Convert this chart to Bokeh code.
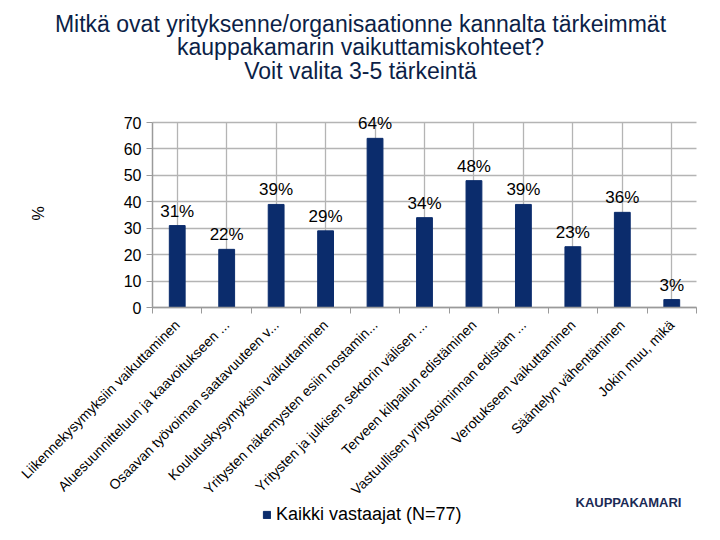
import math
from bokeh.plotting import figure
from bokeh.models import (FixedTicker, Legend, LegendItem, Range1d, Label,
                          LinearAxis, Grid, ColumnDataSource)
from bokeh.embed import file_html
from bokeh.resources import INLINE
from bokeh.core.properties import value

categories = [
    "Liikennekysymyksiin vaikuttaminen",
    "Aluesuunnitteluun ja kaavoitukseen ...",
    "Osaavan työvoiman saatavuuteen v...",
    "Koulutuskysymyksiin vaikuttaminen",
    "Yritysten näkemysten esiin nostamin...",
    "Yritysten ja julkisen sektorin välisen ...",
    "Terveen kilpailun edistäminen",
    "Vastuullisen yritystoiminnan edistäm ...",
    "Verotukseen vaikuttaminen",
    "Sääntelyn vähentäminen",
    "Jokin muu, mikä",
]
values = [31, 22, 39, 29, 64, 34, 48, 39, 23, 36, 3]
series_name = "Kaikki vastaajat (N=77)"
title_lines = [
    "Mitkä ovat yrityksenne/organisaationne kannalta tärkeimmät",
    "kauppakamarin vaikuttamiskohteet?",
    "Voit valita 3-5 tärkeintä",
]
y_ticks = [0, 10, 20, 30, 40, 50, 60, 70]
y_max = 70
y_label = "%"
logo_text = "KAUPPAKAMARI"

FONT = "Liberation Sans"
BAR = "#0b2c6c"
GRID = "#b4b4b4"
AXIS = "#9a9a9a"

n = len(categories)
centers = [i + 0.5 for i in range(n)]
bounds = [float(i) for i in range(n + 1)]

# canvas geometry (pixels); the plotting frame covers the whole canvas and the
# ranges are chosen so that the value area 0..70 x 0..n sits at these pixels
W, H = 712, 532
PL, PR, PT, PB = 152, 696, 122, 307
xu = n / (PR - PL)           # data units per pixel
yu = y_max / (PB - PT)
x_range = Range1d(-PL * xu, n + (W - PR) * xu)
y_range = Range1d(-(H - PB) * yu, y_max + PT * yu)

p = figure(width=W, height=H, x_range=x_range, y_range=y_range,
           output_backend="svg", toolbar_location=None,
           x_axis_type=None, y_axis_type=None,
           min_border_left=0, min_border_right=0, min_border_top=0,
           min_border_bottom=0)
p.outline_line_color = None
p.background_fill_color = "white"

# value axis at x = 0
yaxis = LinearAxis(ticker=FixedTicker(ticks=y_ticks), bounds=(0, y_max), fixed_location=0)
yaxis.axis_line_color = AXIS
yaxis.axis_line_width = 1.5
yaxis.major_tick_line_color = AXIS
yaxis.major_tick_out = 6
yaxis.major_tick_in = 0
yaxis.minor_tick_line_color = None
yaxis.major_label_text_font = FONT
yaxis.major_label_text_font_size = "16px"
yaxis.major_label_text_color = "black"
yaxis.major_label_standoff = 5
p.add_layout(yaxis, "left")

# category axis at y = 0: labels at category centres, tick marks at boundaries
xaxis = LinearAxis(ticker=FixedTicker(ticks=centers, minor_ticks=bounds),
                   major_label_overrides={c: lab for c, lab in zip(centers, categories)},
                   bounds=(0, n), fixed_location=0)
xaxis.axis_line_color = AXIS
xaxis.axis_line_width = 1.5
xaxis.major_tick_line_color = None
xaxis.major_tick_out = 0
xaxis.major_tick_in = 0
xaxis.minor_tick_line_color = AXIS
xaxis.minor_tick_out = 6
xaxis.minor_tick_in = 0
xaxis.major_label_orientation = math.pi / 4
xaxis.major_label_text_font = FONT
xaxis.major_label_text_font_size = "14px"
xaxis.major_label_text_color = "black"
xaxis.major_label_standoff = 9
p.add_layout(xaxis, "below")

# grid lines limited to the value area
try:
    p.add_layout(Grid(dimension=0, ticker=FixedTicker(ticks=centers), cross_bounds=(0, y_max),
                      grid_line_color=GRID, grid_line_width=1.3))
    p.add_layout(Grid(dimension=1, ticker=FixedTicker(ticks=y_ticks), cross_bounds=(0, n),
                      grid_line_color=GRID, grid_line_width=1.3))
except Exception:
    p.segment(x0=centers, y0=[0] * n, x1=centers, y1=[y_max] * n,
              line_color=GRID, line_width=1.3, level="underlay")
    p.segment(x0=[0] * len(y_ticks), y0=y_ticks, x1=[n] * len(y_ticks), y1=y_ticks,
              line_color=GRID, line_width=1.3, level="underlay")

src = ColumnDataSource(dict(x=centers, top=values, lab=[f"{v}%" for v in values]))
bars = p.vbar(x="x", top="top", width=0.32, source=src, color=BAR)
p.text(x="x", y="top", text="lab", source=src, text_align="center",
       text_baseline="bottom", y_offset=-5, text_font=value(FONT),
       text_font_size="17px", text_color="black")

legend = Legend(items=[LegendItem(label=series_name, renderers=[bars])],
                location=(262, 7), glyph_width=9, glyph_height=9,
                label_standoff=5, padding=0, margin=0, border_line_color=None,
                background_fill_alpha=0, label_text_font=FONT,
                label_text_font_size="18px", label_text_color="black")
p.add_layout(legend, "center")

# texts placed in canvas pixels (screen units measured from the bottom-left)
for i, t in enumerate(title_lines):
    p.add_layout(Label(x=360, y=H - (23 + 23.5 * i), x_units="screen", y_units="screen",
                       text=t, text_align="center", text_baseline="middle",
                       text_font=FONT, text_font_size="23px", text_color="#0c1f47"))

p.add_layout(Label(x=38, y=H - 213, x_units="screen", y_units="screen", text=y_label,
                   angle=math.pi / 2, text_align="center", text_baseline="middle",
                   text_font=FONT, text_font_size="16px", text_color="black"))

p.add_layout(Label(x=575, y=H - 502, x_units="screen", y_units="screen",
                   text=logo_text, text_align="left", text_baseline="middle",
                   text_font=FONT, text_font_size="13px", text_font_style="bold",
                   text_color="#1b2a55"))

open("out.html", "w").write(file_html(p, INLINE))
